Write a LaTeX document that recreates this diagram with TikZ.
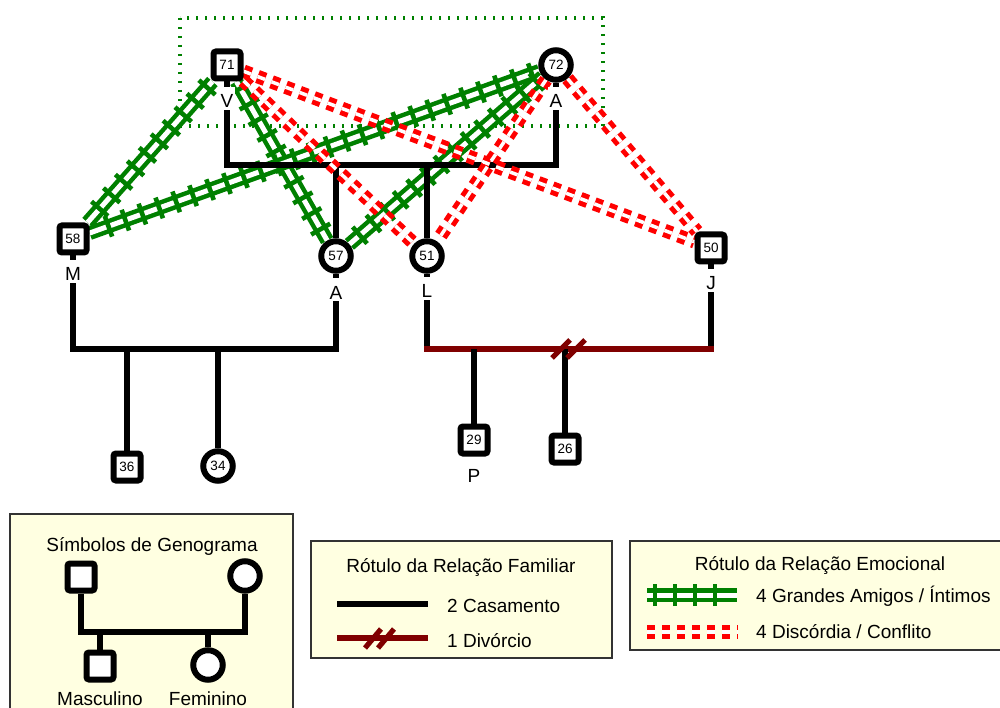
\documentclass[tikz,border=0pt]{standalone}
\usepackage{fontspec}
\setmainfont{Liberation Sans}
\usetikzlibrary{decorations.markings}
\definecolor{grn}{RGB}{0,128,0}
\definecolor{divred}{RGB}{128,0,0}
\definecolor{legfill}{RGB}{255,255,225}
\pgfdeclarelayer{boxlayer}
\pgfdeclarelayer{greenlayer}
\pgfdeclarelayer{famlayer}
\pgfdeclarelayer{redlayer}
\pgfsetlayers{boxlayer,greenlayer,famlayer,redlayer,main}
\newcommand\numfont{\fontsize{13.5}{13.5}\selectfont}
\newcommand\labfont{\fontsize{19}{19}\selectfont}
\newcommand\legfont{\fontsize{19}{19}\selectfont}
\newcommand\emoclose[3][18pt]{%
  \draw[grn, line width=14pt] (#2) -- (#3);
  \draw[white, line width=5pt] (#2) -- (#3);
  \path[ties=#1] (#2) -- (#3);
}
\tikzset{
 male/.style={draw, rectangle, rounded corners=2.5pt, line width=6pt, minimum size=27pt, inner sep=0pt, fill=white, font=\numfont},
 female/.style={draw, circle, line width=6pt, minimum size=29.5pt, inner sep=0pt, fill=white, font=\numfont},
 lbl/.style={anchor=base, fill=white, inner sep=0pt, inner xsep=2pt, text height=21pt, text depth=2pt, font=\labfont},
 fam/.style={draw=black, line width=5.2pt},
 div/.style={draw=divred, line width=5.2pt},
 conflict/.style={draw=red, line width=5pt, double=white, double distance=3.5pt, dash pattern=on 8pt off 7pt},
 ties/.style={decoration={markings, mark=between positions 8pt and -4pt step #1 with {\draw[grn, line width=4.6pt] (0pt,-11pt) -- (0pt,11pt);}}, decorate},
 legbox/.style={draw=black!80, line width=1.8pt, fill=legfill},
 legtext/.style={anchor=base, font=\legfont, inner sep=0pt},
 dotbox/.style={draw=grn, line width=4.5pt, dash pattern=on 2pt off 7pt},
}
\begin{document}
\begin{tikzpicture}[x=1pt,y=-1pt]
\useasboundingbox (0,0) rectangle (1000,708);
% persons
\node[male] (n71) at (227,65) {71};
\node[female] (n72) at (556,65) {72};
\node[male] (n58) at (73,239) {58};
\node[female] (n57) at (336,256) {57};
\node[female] (n51) at (427,256) {51};
\node[male] (n50) at (711,248) {50};
\node[male] (n36) at (127,467) {36};
\node[female] (n34) at (218,466) {34};
\node[male] (n29) at (474,440) {29};
\node[male] (n26) at (565,449) {26};
% name labels
\node[lbl] (lV) at (227,108) {V};
\node[lbl] (lA1) at (556,108) {A};
\node[lbl] (lM) at (73,281) {M};
\node[lbl] (lA2) at (336,299) {A};
\node[lbl] (lL) at (427,298) {L};
\node[lbl] (lJ) at (711,290) {J};
\node[anchor=base, font=\labfont, inner sep=0pt] (lP) at (474,482) {P};
% coordinates for family bars
\coordinate (va) at (227,165);
\coordinate (ma) at (73,349);
\coordinate (lj) at (427,349);
\begin{pgfonlayer}{boxlayer}
\draw[dotbox] (180,18) rectangle (603,126);
\end{pgfonlayer}
\begin{pgfonlayer}{greenlayer}
\emoclose{n71}{n58}
\emoclose{n71}{n57}
\emoclose{n72}{n58}
\emoclose{n72}{n57}
\end{pgfonlayer}
\begin{pgfonlayer}{famlayer}
\draw[fam] (n71) -- (va) -| (n72);
\draw[fam] (n57) -- (n57 |- va);
\draw[fam] (n51) -- (n51 |- va);
\draw[fam] (n58) -- (ma) -| (n57);
\draw[fam] (n36) -- (n36 |- ma);
\draw[fam] (n34) -- (n34 |- ma);
\draw[fam] (n51) -- (lj);
\draw[fam] (n50) -- (n50 |- lj);
\draw[div, line cap=rect] (lj) -- (n50 |- lj);
\draw[fam] (n29) -- (n29 |- lj);
\draw[fam] (n26) -- (n26 |- lj);
\draw[div] (552,358) -- (570,340);
\draw[div] (567,358) -- (585,340);
\end{pgfonlayer}
\begin{pgfonlayer}{redlayer}
\draw[conflict] (n71) -- (n51);
\draw[conflict] (n71) -- (n50);
\draw[conflict] (n72) -- (n51);
\draw[conflict] (n72) -- (n50);
\end{pgfonlayer}
% legend 1: symbols
\draw[legbox] (10,514) rectangle (293,725);
\node[legtext] (t1) at (152,551) {Símbolos de Genograma};
\node[male] (g1) at (81,577) {};
\node[female] (g2) at (245,576) {};
\coordinate (gb) at (81,632);
\draw[fam] (g1) -- (gb) -| (g2);
\node[male] (g3) at (100,666) {};
\node[female] (g4) at (208,665) {};
\draw[fam] (g3) -- (g3 |- gb);
\draw[fam] (g4) -- (g4 |- gb);
\node[legtext] (t2) at (100,705) {Masculino};
\node[legtext] (t3) at (208,705) {Feminino};
% legend 2: family relations
\draw[legbox] (311,541) rectangle (612,658);
\node[legtext] (t4) at (461,572) {Rótulo da Relação Familiar};
\coordinate (f1a) at (337,604);
\coordinate (f1b) at (428,604);
\draw[fam] (f1a) -- (f1b);
\node[legtext, anchor=base west] (t5) at (447,612) {2 Casamento};
\coordinate (f2a) at (337,638);
\coordinate (f2b) at (428,638);
\draw[div] (f2a) -- (f2b);
\draw[div] (365,648) -- (381,629);
\draw[div] (378,648) -- (394,629);
\node[legtext, anchor=base west] (t6) at (447,647) {1 Divórcio};
% legend 3: emotional relations
\draw[legbox] (630,541) rectangle (1010,650);
\node[legtext] (t7) at (820,570) {Rótulo da Relação Emocional};
\coordinate (e1a) at (647,595);
\coordinate (e1b) at (737,595);
\emoclose[20pt]{e1a}{e1b}
\node[legtext, anchor=base west] (t8) at (756,602) {4 Grandes Amigos / Íntimos};
\coordinate (e2a) at (647,632);
\coordinate (e2b) at (738,632);
\draw[conflict] (e2a) -- (e2b);
\node[legtext, anchor=base west] (t9) at (756,638) {4 Discórdia / Conflito};
\end{tikzpicture}
\end{document}
